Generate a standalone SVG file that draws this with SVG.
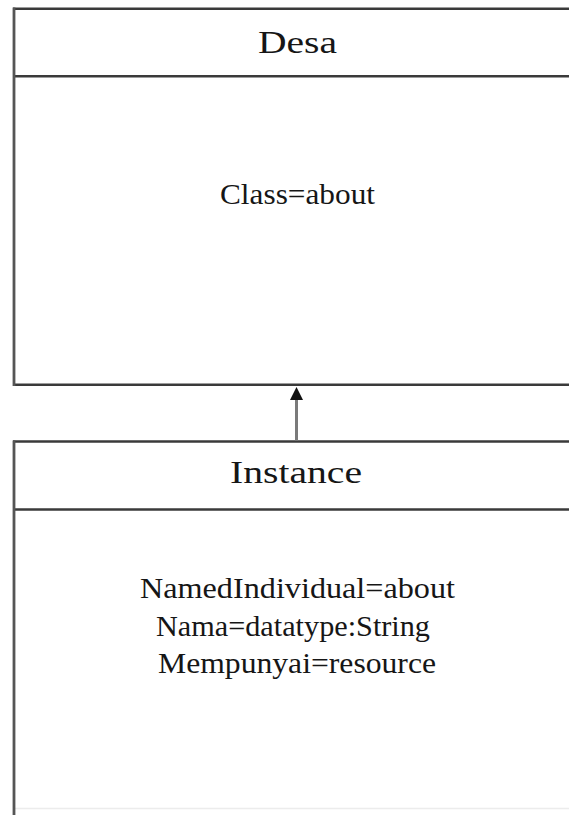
<svg xmlns="http://www.w3.org/2000/svg" width="569" height="815" viewBox="0 0 569 815">
  <style>
    .frame { stroke: #3a3a3a; stroke-width: 2.4; fill: none; }
    .side { stroke: #555555; stroke-width: 2.8; fill: none; }
    text { font-family: 'Liberation Serif', 'Times New Roman', serif; fill: #161616; text-anchor: middle; }
    .title { font-size: 32px; }
    .body { font-size: 29px; }
  </style>
  <rect width="569" height="815" fill="#ffffff"/>

  <!-- Class box: Desa -->
  <g id="desa">
    <line class="frame" x1="13" y1="8.7" x2="569" y2="8.7"/>
    <line class="frame" x1="13" y1="76.3" x2="569" y2="76.3"/>
    <line class="frame" x1="13" y1="384.8" x2="569" y2="384.8"/>
    <line class="side" x1="14" y1="7.5" x2="14" y2="386"/>
    <text class="title" x="297.5" y="53" textLength="79" lengthAdjust="spacingAndGlyphs">Desa</text>
    <text class="body" x="297.5" y="204" textLength="155" lengthAdjust="spacingAndGlyphs">Class=about</text>
  </g>

  <!-- Instance box -->
  <g id="instance">
    <line class="frame" x1="13" y1="441.5" x2="569" y2="441.5"/>
    <line class="frame" x1="13" y1="509.5" x2="569" y2="509.5"/>
    <line x1="13" y1="808.5" x2="569" y2="808.5" stroke="#ececec" stroke-width="1.5"/>
    <line class="side" x1="14" y1="440.5" x2="14" y2="815"/>
    <text class="title" x="296" y="483" textLength="132" lengthAdjust="spacingAndGlyphs">Instance</text>
    <text class="body" x="297.5" y="598" textLength="315" lengthAdjust="spacingAndGlyphs">NamedIndividual=about</text>
    <text class="body" x="293" y="636" textLength="274" lengthAdjust="spacingAndGlyphs">Nama=datatype:String</text>
    <text class="body" x="297" y="673" textLength="278" lengthAdjust="spacingAndGlyphs">Mempunyai=resource</text>
  </g>

  <!-- Connectors: instance-of arrow -->
  <g id="connectors">
    <line x1="296.5" y1="440.5" x2="296.5" y2="399" stroke="#7a7a7a" stroke-width="3"/>
    <path d="M290,400 L296.5,387 L303,400 Z" fill="#111111"/>
  </g>
</svg>
